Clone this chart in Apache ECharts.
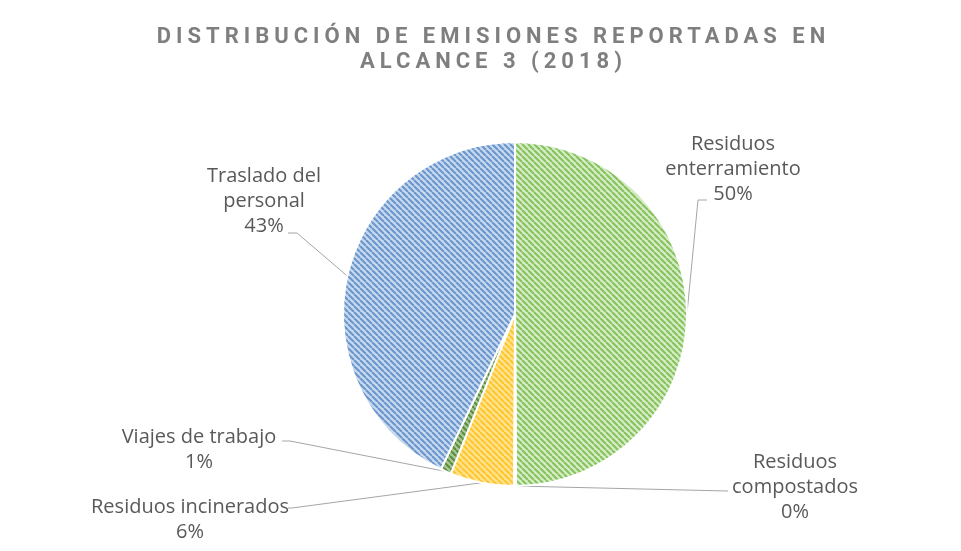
<!DOCTYPE html>
<html>
<head>
<meta charset="utf-8">
<script src="https://cdn.jsdelivr.net/npm/echarts@6/dist/echarts.min.js"></script>
<style>
html,body{margin:0;padding:0;background:#fff;}
#wrap{position:relative;width:961px;height:551px;}
#chart{position:absolute;left:0;top:0;width:961px;height:551px;}
#title{position:absolute;left:0;top:23px;width:961px;padding-left:26px;box-sizing:border-box;text-align:center;
  font-family:Roboto,"Open Sans",sans-serif;font-weight:bold;font-size:22px;line-height:25px;letter-spacing:5px;color:#7f7f7f;z-index:2;}
</style>
</head>
<body>
<div id="wrap">
  <div id="chart"></div>
  <div id="title">DISTRIBUCIÓN DE EMISIONES REPORTADAS EN<br>ALCANCE 3 (2018)</div>
</div>
<script>
// ---- data ----
const categories = ['Residuos enterramiento', 'Residuos compostados', 'Residuos incinerados', 'Viajes de trabajo', 'Traslado del personal'];
const labelNames = ['Residuos\nenterramiento', 'Residuos\ncompostados', 'Residuos incinerados', 'Viajes de trabajo', 'Traslado del\npersonal'];
const values = [50, 0.2, 6, 1, 43];

// ---- styles ----
const hatchColors = [
  ['#d6ecc6', '#85c25c'],
  ['#f2c9a6', '#e08a4a'],
  ['#ffe38e', '#ffc52e'],
  ['#a8c895', '#5b8b3d'],
  ['#c7d9ef', '#6a95cb']
];
// label layout (text block centre, bend point, end point of leader line)
const labelLayoutCfg = [
  {x: 733, y: 169, bend: [698, 200], end: [707, 200]},
  {x: 795, y: 487, bend: [727, 491], end: [728, 491]},
  {x: 190, y: 520, bend: [292, 508], end: [288, 508]},
  {x: 199, y: 450, bend: [290, 441], end: [282, 441]},
  {x: 264, y: 201, bend: [297, 233], end: [288, 233]}
];

function makeHatch(bg, fg) {
  const c = document.createElement('canvas');
  c.width = 6; c.height = 6;
  const ctx = c.getContext('2d');
  ctx.fillStyle = bg; ctx.fillRect(0, 0, 6, 6);
  ctx.strokeStyle = fg; ctx.lineWidth = 2;
  [-6, 0, 6].forEach(k => { ctx.beginPath(); ctx.moveTo(k, 0); ctx.lineTo(k + 6, 6); ctx.stroke(); });
  return {image: c, repeat: 'repeat'};
}

const total = values.reduce((a, b) => a + b, 0);
const seriesData = categories.map((name, i) => ({
  name: name,
  value: values[i],
  itemStyle: {color: makeHatch(hatchColors[i][0], hatchColors[i][1])},
  label: {formatter: labelNames[i] + '\n' + Math.round(values[i] / total * 100) + '%'}
}));

const chart = echarts.init(document.getElementById('chart'), null, {renderer: 'canvas'});
chart.setOption({
  animation: false,
  backgroundColor: '#ffffff',
  series: [{
    type: 'pie',
    center: [515, 314],
    radius: 172,
    startAngle: 90,
    clockwise: true,
    avoidLabelOverlap: false,
    itemStyle: {borderColor: '#ffffff', borderWidth: 2},
    emphasis: {disabled: true},
    label: {
      show: true,
      position: 'outside',
      color: '#595959',
      fontFamily: '"Open Sans", sans-serif',
      fontSize: 20,
      lineHeight: 25,
      align: 'center'
    },
    labelLine: {show: true, lineStyle: {color: '#a6a6a6', width: 1}, length: 10, length2: 10},
    labelLayout: function (p) {
      const L = labelLayoutCfg[p.dataIndex];
      const p0 = p.labelLinePoints ? p.labelLinePoints[0] : L.bend;
      return {
        x: L.x, y: L.y, align: 'center', verticalAlign: 'middle',
        labelLinePoints: [p0, L.bend, L.end]
      };
    },
    data: seriesData
  }]
});
</script>
</body>
</html>
